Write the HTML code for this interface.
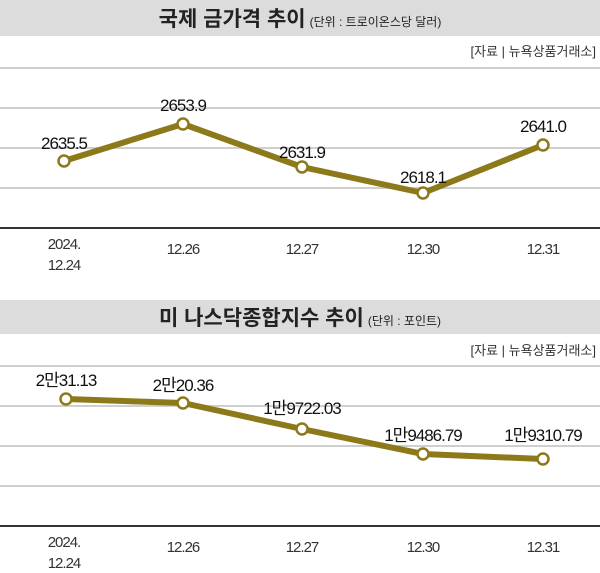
<!DOCTYPE html><html><head><meta charset="utf-8"><style>body{margin:0;background:#fff}svg text{font-family:"Liberation Sans","Noto Sans CJK KR",sans-serif}</style></head><body>
<svg width="600" height="568" viewBox="0 0 600 568" xmlns="http://www.w3.org/2000/svg">
<rect x="0" y="0" width="600" height="36" fill="#dcdcdc"/>
<text x="300" y="26" text-anchor="middle" font-size="21" font-weight="bold" fill="#222">국제 금가격 추이<tspan font-size="12" font-weight="normal" dx="4">(단위 : 트로이온스당 달러)</tspan></text>
<text x="596" y="56" text-anchor="end" font-size="13" fill="#333">[자료 | 뉴욕상품거래소]</text>
<g stroke="#cfcfcf" stroke-width="2"><line x1="0" y1="68" x2="600" y2="68"/><line x1="0" y1="108" x2="600" y2="108"/><line x1="0" y1="148" x2="600" y2="148"/><line x1="0" y1="188" x2="600" y2="188"/></g>
<line x1="0" y1="228" x2="600" y2="228" stroke="#333" stroke-width="2"/>
<polyline points="64,161 183,124 302,167 423,193 543,145" fill="none" stroke="#8c7a1a" stroke-width="6" stroke-linejoin="round"/>
<g fill="#fff" stroke="#8c7a1a" stroke-width="2.5"><circle cx="64" cy="161" r="5.5"/><circle cx="183" cy="124" r="5.5"/><circle cx="302" cy="167" r="5.5"/><circle cx="423" cy="193" r="5.5"/><circle cx="543" cy="145" r="5.5"/></g>
<g font-size="17" fill="#111" text-anchor="middle" letter-spacing="-1"><text x="64" y="149">2635.5</text><text x="183" y="111">2653.9</text><text x="302" y="158">2631.9</text><text x="423" y="183">2618.1</text><text x="543" y="132">2641.0</text></g>
<g font-size="15" fill="#333" text-anchor="middle" letter-spacing="-1"><text x="64" y="249">2024.</text><text x="64" y="270">12.24</text><text x="183" y="254">12.26</text><text x="302" y="254">12.27</text><text x="423" y="254">12.30</text><text x="543" y="254">12.31</text></g>

<rect x="0" y="300" width="600" height="34" fill="#dcdcdc"/>
<text x="300" y="325" text-anchor="middle" font-size="21" font-weight="bold" fill="#222">미 나스닥종합지수 추이<tspan font-size="12" font-weight="normal" dx="4">(단위 : 포인트)</tspan></text>
<text x="596" y="355" text-anchor="end" font-size="13" fill="#333">[자료 | 뉴욕상품거래소]</text>
<g stroke="#cfcfcf" stroke-width="2"><line x1="0" y1="366" x2="600" y2="366"/><line x1="0" y1="406" x2="600" y2="406"/><line x1="0" y1="446" x2="600" y2="446"/><line x1="0" y1="486" x2="600" y2="486"/></g>
<line x1="0" y1="526" x2="600" y2="526" stroke="#333" stroke-width="2"/>
<polyline points="66,399 183,403 302,429 423,454 543,459" fill="none" stroke="#8c7a1a" stroke-width="6" stroke-linejoin="round"/>
<g fill="#fff" stroke="#8c7a1a" stroke-width="2.5"><circle cx="66" cy="399" r="5.5"/><circle cx="183" cy="403" r="5.5"/><circle cx="302" cy="429" r="5.5"/><circle cx="423" cy="454" r="5.5"/><circle cx="543" cy="459" r="5.5"/></g>
<g font-size="17" fill="#111" text-anchor="middle" letter-spacing="-1"><text x="66" y="386">2만31.13</text><text x="183" y="391">2만20.36</text><text x="302" y="414">1만9722.03</text><text x="423" y="441">1만9486.79</text><text x="543" y="441">1만9310.79</text></g>
<g font-size="15" fill="#333" text-anchor="middle" letter-spacing="-1"><text x="64" y="547">2024.</text><text x="64" y="568">12.24</text><text x="183" y="552">12.26</text><text x="302" y="552">12.27</text><text x="423" y="552">12.30</text><text x="543" y="552">12.31</text></g>
</svg></body></html>
